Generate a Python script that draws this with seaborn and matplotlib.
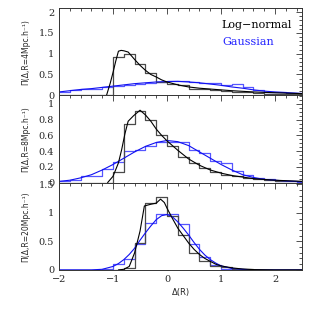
import numpy as np
import pandas as pd
import seaborn as sns
import matplotlib.pyplot as plt
from matplotlib.ticker import MultipleLocator, FormatStrFormatter

# histogram bins (width 0.2, left edges -2.0 ... 2.4)
bin_left = [-2.0, -1.8, -1.6, -1.4, -1.2, -1.0, -0.8, -0.6, -0.4, -0.2, 0.0, 0.2,
	0.4, 0.6, 0.8, 1.0, 1.2, 1.4, 1.6, 1.8, 2.0, 2.2, 2.4]

# R = 4 Mpc/h
hist_ln_4 = [0, 0, 0, 0, 0, 0.92, 1.0, 0.75, 0.53, 0.32, 0.27, 0.24,
	0.16, 0.15, 0.13, 0.1, 0.08, 0.07, 0.05, 0.04, 0.03, 0.03, 0.02]
hist_g_4 = [0.09, 0.12, 0.14, 0.16, 0.2, 0.22, 0.25, 0.27, 0.3, 0.31, 0.35, 0.35,
	0.31, 0.3, 0.29, 0.24, 0.26, 0.19, 0.13, 0.09, 0.07, 0.06, 0.04]
curve_ln_4_x = [-1.12, -1.05, -1.0, -0.95, -0.9, -0.85, -0.8, -0.72, -0.6, -0.5, -0.4, -0.3,
	-0.2, -0.1, 0.0, 0.2, 0.4, 0.6, 0.8, 1.0, 1.2, 1.6, 2.0, 2.5]
curve_ln_4_y = [0, 0.3, 0.55, 0.82, 1.06, 1.08, 1.07, 1.04, 0.86, 0.72, 0.6, 0.5,
	0.44, 0.37, 0.32, 0.25, 0.2, 0.17, 0.15, 0.13, 0.11, 0.08, 0.06, 0.04]
curve_g_4_x = [-2.0, -1.8, -1.6, -1.4, -1.2, -1.0, -0.8, -0.6, -0.4, -0.2, 0.0, 0.2,
	0.4, 0.6, 0.8, 1.0, 1.2, 1.4, 1.6, 1.8, 2.0, 2.2, 2.4, 2.5]
curve_g_4_y = [0.08, 0.11, 0.14, 0.16, 0.19, 0.22, 0.25, 0.28, 0.3, 0.32, 0.33, 0.335,
	0.32, 0.3, 0.27, 0.24, 0.2, 0.17, 0.13, 0.1, 0.08, 0.065, 0.05, 0.045]

# R = 8 Mpc/h
hist_ln_8 = [0, 0, 0, 0, 0, 0.14, 0.75, 0.91, 0.79, 0.61, 0.46, 0.33,
	0.25, 0.19, 0.14, 0.1, 0.08, 0.06, 0.045, 0.03, 0.025, 0.02, 0.015]
hist_g_8 = [0.02, 0.03, 0.08, 0.08, 0.17, 0.26, 0.4, 0.41, 0.47, 0.52, 0.52, 0.51,
	0.42, 0.37, 0.27, 0.25, 0.15, 0.09, 0.06, 0.04, 0.02, 0.015, 0.01]
curve_ln_8_x = [-1.1, -1.0, -0.9, -0.84, -0.78, -0.72, -0.62, -0.5, -0.4, -0.3, -0.2, -0.1,
	0.0, 0.2, 0.4, 0.6, 0.8, 1.0, 1.2, 1.4, 1.6, 2.0, 2.5]
curve_ln_8_y = [0, 0.08, 0.25, 0.42, 0.62, 0.78, 0.85, 0.92, 0.86, 0.78, 0.68, 0.6,
	0.53, 0.41, 0.3, 0.22, 0.16, 0.12, 0.09, 0.07, 0.05, 0.03, 0.015]
curve_g_8_x = [-2.0, -1.8, -1.6, -1.4, -1.2, -1.0, -0.8, -0.6, -0.4, -0.2, 0.0, 0.2,
	0.4, 0.6, 0.8, 1.0, 1.2, 1.4, 1.6, 1.8, 2.0, 2.2, 2.5]
curve_g_8_y = [0.015, 0.03, 0.06, 0.1, 0.16, 0.23, 0.31, 0.39, 0.46, 0.51, 0.535, 0.52,
	0.47, 0.39, 0.31, 0.23, 0.16, 0.1, 0.065, 0.04, 0.03, 0.02, 0.01]

# R = 20 Mpc/h
hist_ln_20 = [0, 0, 0, 0, 0, 0, 0.03, 0.47, 1.17, 1.27, 0.95, 0.61,
	0.3, 0.16, 0.07, 0.045, 0.02, 0.01, 0.005, 0, 0, 0, 0]
hist_g_20 = [0, 0, 0, 0, 0.01, 0.1, 0.19, 0.45, 0.82, 0.98, 0.98, 0.8,
	0.45, 0.22, 0.08, 0.02, 0.01, 0, 0, 0, 0, 0, 0]
curve_ln_20_x = [-0.9, -0.8, -0.7, -0.6, -0.5, -0.42, -0.3, -0.2, -0.12, -0.05, 0.0, 0.1,
	0.2, 0.3, 0.4, 0.5, 0.6, 0.7, 0.8, 0.9, 1.0, 1.2, 1.4, 1.6, 2.0, 2.5]
curve_ln_20_y = [0, 0.01, 0.06, 0.3, 0.68, 1.12, 1.15, 1.17, 1.24, 1.18, 1.08, 0.9,
	0.73, 0.6, 0.47, 0.36, 0.27, 0.2, 0.15, 0.1, 0.07, 0.035, 0.015, 0.005, 0, 0]
curve_g_20_x = [-2.0, -1.4, -1.2, -1.0, -0.9, -0.8, -0.7, -0.6, -0.5, -0.4, -0.3, -0.2,
	-0.1, 0.0, 0.1, 0.2, 0.3, 0.4, 0.5, 0.6, 0.7, 0.8, 0.9, 1.0, 1.2, 1.4, 1.6, 2.5]
curve_g_20_y = [0, 0, 0.01, 0.06, 0.11, 0.18, 0.27, 0.38, 0.52, 0.65, 0.77, 0.88,
	0.95, 0.97, 0.93, 0.84, 0.73, 0.61, 0.48, 0.36, 0.26, 0.18, 0.12, 0.07, 0.025, 0.01, 0, 0]

panel_labels = ["\u03a0(\u0394,R=4Mpc.h\u207b\u00b9)", "\u03a0(\u0394,R=8Mpc.h\u207b\u00b9)",
	"\u03a0(\u0394,R=20Mpc.h\u207b\u00b9)"]
legend_labels = ["Log\u2212normal", "Gaussian"]

COLOR_LN_HIST = "#4a4a4a"
COLOR_LN = "black"
COLOR_G_HIST = "#5555ff"
COLOR_G = "#1010f0"


def draw_panel(ax, hist_ln, hist_g, cx_ln, cy_ln, cx_g, cy_g, ymax, major, minor, label):
	edges = [round(b, 1) for b in bin_left] + [round(bin_left[-1] + 0.2, 1)]
	df = pd.DataFrame({"center": np.array(bin_left) + 0.1, "ln": hist_ln, "g": hist_g})

	sns.histplot(data=df, x="center", weights="g", bins=edges, element="step", fill=False,
		color=COLOR_G_HIST, linewidth=0.9, ax=ax)
	sns.histplot(data=df, x="center", weights="ln", bins=edges, element="step", fill=False,
		color=COLOR_LN_HIST, linewidth=0.9, ax=ax)
	sns.lineplot(x=cx_g, y=cy_g, color=COLOR_G, linewidth=0.8, ax=ax)
	sns.lineplot(x=cx_ln, y=cy_ln, color=COLOR_LN, linewidth=0.8, ax=ax)

	ax.set_xlim(-2, 2.5)
	ax.set_ylim(0, ymax)
	ax.xaxis.set_major_locator(MultipleLocator(1))
	ax.xaxis.set_minor_locator(MultipleLocator(0.2))
	ax.yaxis.set_major_locator(MultipleLocator(major))
	ax.yaxis.set_minor_locator(MultipleLocator(minor))
	ax.yaxis.set_major_formatter(FormatStrFormatter("%g"))
	ax.tick_params(which="both", direction="in", top=True, right=True, labelsize=7,
		width=0.6, color="#333333")
	ax.tick_params(which="major", length=4.5)
	ax.tick_params(which="minor", length=2.2)
	for s in ax.spines.values():
		s.set_linewidth(0.7)
		s.set_color("#333333")
	ax.set_ylabel(label, fontsize=5.5, family="DejaVu Sans")
	ax.yaxis.set_label_coords(-0.12, 0.5)
	ax.set_xlabel("")


if __name__ == "__main__":
	sns.set_style("white")
	plt.rcParams["font.family"] = ["DejaVu Serif"]

	fig = plt.figure(figsize=(3.19, 3.19), dpi=100)
	gs = fig.add_gridspec(3, 1, left=0.185, right=0.947, top=0.975, bottom=0.154, hspace=0)
	ax1 = fig.add_subplot(gs[0])
	ax2 = fig.add_subplot(gs[1], sharex=ax1)
	ax3 = fig.add_subplot(gs[2], sharex=ax1)

	draw_panel(ax1, hist_ln_4, hist_g_4, curve_ln_4_x, curve_ln_4_y, curve_g_4_x, curve_g_4_y,
		2.1, 0.5, 0.1, panel_labels[0])
	draw_panel(ax2, hist_ln_8, hist_g_8, curve_ln_8_x, curve_ln_8_y, curve_g_8_x, curve_g_8_y,
		1.11, 0.2, 0.05, panel_labels[1])
	draw_panel(ax3, hist_ln_20, hist_g_20, curve_ln_20_x, curve_ln_20_y, curve_g_20_x, curve_g_20_y,
		1.53, 0.5, 0.1, panel_labels[2])

	ax1.tick_params(labelbottom=False)
	ax2.tick_params(labelbottom=False)

	ax1.text(0.67, 0.80, legend_labels[0], transform=ax1.transAxes, fontsize=8,
		color="black", va="center", ha="left")
	ax1.text(0.67, 0.61, legend_labels[1], transform=ax1.transAxes, fontsize=8,
		color="#2020ff", va="center", ha="left")

	ax3.set_xlabel("\u0394(R)", fontsize=6, family="DejaVu Sans", labelpad=3)

	plt.savefig("out.png", dpi=100)
